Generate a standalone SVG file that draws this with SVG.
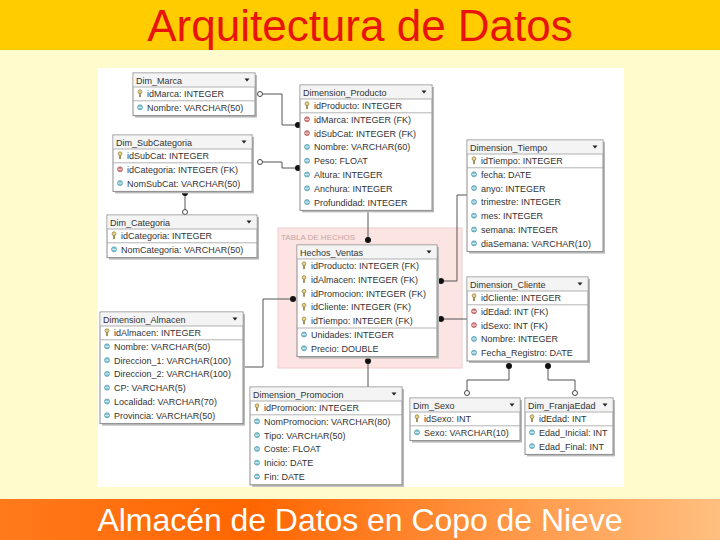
<svg xmlns="http://www.w3.org/2000/svg" xmlns:xlink="http://www.w3.org/1999/xlink" width="720" height="540" viewBox="0 0 720 540">
<defs>
<linearGradient id="footG" x1="0" y1="0" x2="1" y2="0">
<stop offset="0" stop-color="#FF7A1C"/><stop offset="0.35" stop-color="#FF6600"/><stop offset="1" stop-color="#FFBF80"/>
</linearGradient>
<g id="pk"><circle cx="0" cy="-1.8" r="1.9" fill="#e6d48a" stroke="#8c7a3a" stroke-width="0.7"/><rect x="-0.8" y="0" width="1.6" height="3.6" fill="#8c7a3a"/></g>
<g id="fk"><circle r="2.5" fill="#d98484" stroke="#a04a4a" stroke-width="0.6"/><rect x="-2.1" y="-0.4" width="4.2" height="0.9" fill="#ffffff" opacity="0.7"/></g>
<g id="at"><circle r="2.5" fill="#86c8d8" stroke="#3a8a9a" stroke-width="0.6"/><rect x="-2.1" y="-0.4" width="4.2" height="0.9" fill="#ffffff" opacity="0.7"/></g>
<path id="tri" d="M-2.5,-1.5 L2.5,-1.5 L0,1.5 Z" fill="#222"/>
</defs>
<style>
.box{fill:#ffffff;stroke:#8c8c8c;stroke-width:1}
.shadow{fill:#b8b8b8}
.hdr{fill:#f4f4f4}
.sep{stroke:#a0a0a0;stroke-width:0.8}
.t{font-family:"Liberation Sans","DejaVu Sans",sans-serif;font-size:9px;fill:#333}
.conn{fill:none;stroke:#555;stroke-width:1}
.dot{fill:#111}
.ring{fill:#fff;stroke:#444;stroke-width:1}
</style>
<!-- backgrounds -->
<rect x="0" y="0" width="720" height="540" fill="#FFFBCC"/>
<rect x="0" y="0" width="720" height="50" fill="#FFCC00"/>
<rect x="0" y="499" width="720" height="41" fill="url(#footG)"/>
<text x="360" y="41" text-anchor="middle" font-family="'Liberation Sans',Arial,sans-serif" font-size="44" fill="#E8140C">Arquitectura de Datos</text>
<text x="360" y="531" text-anchor="middle" font-family="'Liberation Sans',Arial,sans-serif" font-size="32" fill="#ffffff" textLength="525">Almacén de Datos en Copo de Nieve</text>
<rect x="98" y="68" width="526" height="419" fill="#ffffff"/>
<!-- fact region -->
<g id="region_hechos">
<rect x="278" y="228" width="184" height="140" fill="#fbe4e2" stroke="#f0cccc" stroke-width="1"/>
<text x="281" y="240" font-family="'Liberation Sans',Arial,sans-serif" font-size="8" fill="#c8a4a4">TABLA DE HECHOS</text>
</g>
<!-- connectors -->
<g id="connectors">
<path class="conn" d="M262.5,94 H282 V125 H297"/>
<circle class="ring" cx="260" cy="94" r="2.5"/><circle class="dot" cx="298" cy="125" r="3"/>
<path class="conn" d="M262.5,162 H282 V168 H297"/>
<circle class="ring" cx="260" cy="162" r="2.5"/><circle class="dot" cx="298" cy="168" r="3"/>
<path class="conn" d="M185,193 V209.5"/>
<circle class="dot" cx="185" cy="193" r="3"/><circle class="ring" cx="185" cy="212" r="2.5"/>
<path class="conn" d="M368,211 V240"/>
<circle class="dot" cx="368" cy="240" r="3"/>
<path class="conn" d="M467,195 H457 V281 H441"/>
<circle class="dot" cx="441" cy="281" r="3"/>
<path class="conn" d="M441,319 H467"/>
<circle class="dot" cx="441" cy="319" r="3"/>
<path class="conn" d="M243,367 H263 V299 H293"/>
<circle class="dot" cx="293" cy="299" r="3"/>
<path class="conn" d="M368,361 V387"/>
<circle class="dot" cx="368" cy="361" r="3"/>
<path class="conn" d="M509,366 V380 H467 V390.5"/>
<circle class="dot" cx="509" cy="366" r="3"/><circle class="ring" cx="467" cy="393" r="2.5"/>
<path class="conn" d="M548,366 V380 H575 V390.5"/>
<circle class="dot" cx="548" cy="366" r="3"/><circle class="ring" cx="575" cy="393" r="2.5"/>
</g>
<!-- Dim_Marca -->
<g id="Dim_Marca">
<rect class="shadow" x="135" y="75" width="122" height="42.6"/>
<rect class="box" x="133" y="73" width="122" height="42.6"/>
<rect class="hdr" x="133.5" y="73.5" width="121" height="13.5"/>
<line class="sep" x1="133" y1="87" x2="255" y2="87"/>
<line class="sep" x1="133" y1="100.8" x2="255" y2="100.8"/>
<text class="t" x="136" y="83.5">Dim_Marca</text><use href="#tri" x="247" y="80"/>
<use href="#pk" x="140" y="93.5"/><text class="t" x="147" y="97">idMarca: INTEGER</text>
<use href="#at" x="140" y="107.3"/><text class="t" x="147" y="110.8">Nombre: VARCHAR(50)</text>
</g>
<!-- Dim_SubCategoria -->
<g id="Dim_SubCategoria">
<rect class="shadow" x="115" y="137" width="139" height="56.4"/>
<rect class="box" x="113" y="135" width="139" height="56.4"/>
<rect class="hdr" x="113.5" y="135.5" width="138" height="13.5"/>
<line class="sep" x1="113" y1="149" x2="252" y2="149"/>
<line class="sep" x1="113" y1="162.8" x2="252" y2="162.8"/>
<text class="t" x="116" y="145.5">Dim_SubCategoria</text><use href="#tri" x="244" y="142"/>
<use href="#pk" x="120" y="155.5"/><text class="t" x="127" y="159">idSubCat: INTEGER</text>
<use href="#fk" x="120" y="169.3"/><text class="t" x="127" y="172.8">idCategoria: INTEGER (FK)</text>
<use href="#at" x="120" y="183.1"/><text class="t" x="127" y="186.6">NomSubCat: VARCHAR(50)</text>
</g>
<!-- Dim_Categoria -->
<g id="Dim_Categoria">
<rect class="shadow" x="109" y="217" width="150" height="42.6"/>
<rect class="box" x="107" y="215" width="150" height="42.6"/>
<rect class="hdr" x="107.5" y="215.5" width="149" height="13.5"/>
<line class="sep" x1="107" y1="229" x2="257" y2="229"/>
<line class="sep" x1="107" y1="242.8" x2="257" y2="242.8"/>
<text class="t" x="110" y="225.5">Dim_Categoria</text><use href="#tri" x="249" y="222"/>
<use href="#pk" x="114" y="235.5"/><text class="t" x="121" y="239">idCategoria: INTEGER</text>
<use href="#at" x="114" y="249.3"/><text class="t" x="121" y="252.8">NomCategoria: VARCHAR(50)</text>
</g>
<!-- Dimension_Producto -->
<g id="Dimension_Producto">
<rect class="shadow" x="302" y="87" width="132" height="125.4"/>
<rect class="box" x="300" y="85" width="132" height="125.4"/>
<rect class="hdr" x="300.5" y="85.5" width="131" height="13.5"/>
<line class="sep" x1="300" y1="99" x2="432" y2="99"/>
<line class="sep" x1="300" y1="112.8" x2="432" y2="112.8"/>
<text class="t" x="303" y="95.5">Dimension_Producto</text><use href="#tri" x="424" y="92"/>
<use href="#pk" x="307" y="105.5"/><text class="t" x="314" y="109">idProducto: INTEGER</text>
<use href="#fk" x="307" y="119.3"/><text class="t" x="314" y="122.8">idMarca: INTEGER (FK)</text>
<use href="#fk" x="307" y="133.1"/><text class="t" x="314" y="136.6">idSubCat: INTEGER (FK)</text>
<use href="#at" x="307" y="146.9"/><text class="t" x="314" y="150.4">Nombre: VARCHAR(60)</text>
<use href="#at" x="307" y="160.7"/><text class="t" x="314" y="164.2">Peso: FLOAT</text>
<use href="#at" x="307" y="174.5"/><text class="t" x="314" y="178">Altura: INTEGER</text>
<use href="#at" x="307" y="188.3"/><text class="t" x="314" y="191.8">Anchura: INTEGER</text>
<use href="#at" x="307" y="202.1"/><text class="t" x="314" y="205.6">Profundidad: INTEGER</text>
</g>
<!-- Dimension_Tiempo -->
<g id="Dimension_Tiempo">
<rect class="shadow" x="469" y="142" width="136" height="111.6"/>
<rect class="box" x="467" y="140" width="136" height="111.6"/>
<rect class="hdr" x="467.5" y="140.5" width="135" height="13.5"/>
<line class="sep" x1="467" y1="154" x2="603" y2="154"/>
<line class="sep" x1="467" y1="167.8" x2="603" y2="167.8"/>
<text class="t" x="470" y="150.5">Dimension_Tiempo</text><use href="#tri" x="595" y="147"/>
<use href="#pk" x="474" y="160.5"/><text class="t" x="481" y="164">idTiempo: INTEGER</text>
<use href="#at" x="474" y="174.3"/><text class="t" x="481" y="177.8">fecha: DATE</text>
<use href="#at" x="474" y="188.1"/><text class="t" x="481" y="191.6">anyo: INTEGER</text>
<use href="#at" x="474" y="201.9"/><text class="t" x="481" y="205.4">trimestre: INTEGER</text>
<use href="#at" x="474" y="215.7"/><text class="t" x="481" y="219.2">mes: INTEGER</text>
<use href="#at" x="474" y="229.5"/><text class="t" x="481" y="233">semana: INTEGER</text>
<use href="#at" x="474" y="243.3"/><text class="t" x="481" y="246.8">diaSemana: VARCHAR(10)</text>
</g>
<!-- Hechos_Ventas -->
<g id="Hechos_Ventas">
<rect class="shadow" x="299" y="247" width="140" height="111.6"/>
<rect class="box" x="297" y="245" width="140" height="111.6"/>
<rect class="hdr" x="297.5" y="245.5" width="139" height="13.5"/>
<line class="sep" x1="297" y1="259" x2="437" y2="259"/>
<line class="sep" x1="297" y1="328" x2="437" y2="328"/>
<text class="t" x="300" y="255.5">Hechos_Ventas</text><use href="#tri" x="429" y="252"/>
<use href="#pk" x="304" y="265.5"/><text class="t" x="311" y="269">idProducto: INTEGER (FK)</text>
<use href="#pk" x="304" y="279.3"/><text class="t" x="311" y="282.8">idAlmacen: INTEGER (FK)</text>
<use href="#pk" x="304" y="293.1"/><text class="t" x="311" y="296.6">idPromocion: INTEGER (FK)</text>
<use href="#pk" x="304" y="306.9"/><text class="t" x="311" y="310.4">idCliente: INTEGER (FK)</text>
<use href="#pk" x="304" y="320.7"/><text class="t" x="311" y="324.2">idTiempo: INTEGER (FK)</text>
<use href="#at" x="304" y="334.5"/><text class="t" x="311" y="338">Unidades: INTEGER</text>
<use href="#at" x="304" y="348.3"/><text class="t" x="311" y="351.8">Precio: DOUBLE</text>
</g>
<!-- Dimension_Cliente -->
<g id="Dimension_Cliente">
<rect class="shadow" x="469" y="279" width="121" height="84"/>
<rect class="box" x="467" y="277" width="121" height="84"/>
<rect class="hdr" x="467.5" y="277.5" width="120" height="13.5"/>
<line class="sep" x1="467" y1="291" x2="588" y2="291"/>
<line class="sep" x1="467" y1="304.8" x2="588" y2="304.8"/>
<text class="t" x="470" y="287.5">Dimension_Cliente</text><use href="#tri" x="580" y="284"/>
<use href="#pk" x="474" y="297.5"/><text class="t" x="481" y="301">idCliente: INTEGER</text>
<use href="#fk" x="474" y="311.3"/><text class="t" x="481" y="314.8">idEdad: INT (FK)</text>
<use href="#fk" x="474" y="325.1"/><text class="t" x="481" y="328.6">idSexo: INT (FK)</text>
<use href="#at" x="474" y="338.9"/><text class="t" x="481" y="342.4">Nombre: INTEGER</text>
<use href="#at" x="474" y="352.7"/><text class="t" x="481" y="356.2">Fecha_Registro: DATE</text>
</g>
<!-- Dimension_Almacen -->
<g id="Dimension_Almacen">
<rect class="shadow" x="102" y="314" width="143" height="111.6"/>
<rect class="box" x="100" y="312" width="143" height="111.6"/>
<rect class="hdr" x="100.5" y="312.5" width="142" height="13.5"/>
<line class="sep" x1="100" y1="326" x2="243" y2="326"/>
<line class="sep" x1="100" y1="339.8" x2="243" y2="339.8"/>
<text class="t" x="103" y="322.5">Dimension_Almacen</text><use href="#tri" x="235" y="319"/>
<use href="#pk" x="107" y="332.5"/><text class="t" x="114" y="336">idAlmacen: INTEGER</text>
<use href="#at" x="107" y="346.3"/><text class="t" x="114" y="349.8">Nombre: VARCHAR(50)</text>
<use href="#at" x="107" y="360.1"/><text class="t" x="114" y="363.6">Direccion_1: VARCHAR(100)</text>
<use href="#at" x="107" y="373.9"/><text class="t" x="114" y="377.4">Direccion_2: VARCHAR(100)</text>
<use href="#at" x="107" y="387.7"/><text class="t" x="114" y="391.2">CP: VARCHAR(5)</text>
<use href="#at" x="107" y="401.5"/><text class="t" x="114" y="405">Localidad: VARCHAR(70)</text>
<use href="#at" x="107" y="415.3"/><text class="t" x="114" y="418.8">Provincia: VARCHAR(50)</text>
</g>
<!-- Dimension_Promocion -->
<g id="Dimension_Promocion">
<rect class="shadow" x="252" y="389" width="152" height="97.8"/>
<rect class="box" x="250" y="387" width="152" height="97.8"/>
<rect class="hdr" x="250.5" y="387.5" width="151" height="13.5"/>
<line class="sep" x1="250" y1="401" x2="402" y2="401"/>
<line class="sep" x1="250" y1="414.8" x2="402" y2="414.8"/>
<text class="t" x="253" y="397.5">Dimension_Promocion</text><use href="#tri" x="394" y="394"/>
<use href="#pk" x="257" y="407.5"/><text class="t" x="264" y="411">idPromocion: INTEGER</text>
<use href="#at" x="257" y="421.3"/><text class="t" x="264" y="424.8">NomPromocion: VARCHAR(80)</text>
<use href="#at" x="257" y="435.1"/><text class="t" x="264" y="438.6">Tipo: VARCHAR(50)</text>
<use href="#at" x="257" y="448.9"/><text class="t" x="264" y="452.4">Coste: FLOAT</text>
<use href="#at" x="257" y="462.7"/><text class="t" x="264" y="466.2">Inicio: DATE</text>
<use href="#at" x="257" y="476.5"/><text class="t" x="264" y="480">Fin: DATE</text>
</g>
<!-- Dim_Sexo -->
<g id="Dim_Sexo">
<rect class="shadow" x="412" y="400" width="110" height="42.6"/>
<rect class="box" x="410" y="398" width="110" height="42.6"/>
<rect class="hdr" x="410.5" y="398.5" width="109" height="13.5"/>
<line class="sep" x1="410" y1="412" x2="520" y2="412"/>
<line class="sep" x1="410" y1="425.8" x2="520" y2="425.8"/>
<text class="t" x="413" y="408.5">Dim_Sexo</text><use href="#tri" x="512" y="405"/>
<use href="#pk" x="417" y="418.5"/><text class="t" x="424" y="422">idSexo: INT</text>
<use href="#at" x="417" y="432.3"/><text class="t" x="424" y="435.8">Sexo: VARCHAR(10)</text>
</g>
<!-- Dim_FranjaEdad -->
<g id="Dim_FranjaEdad">
<rect class="shadow" x="527" y="400" width="88" height="56.4"/>
<rect class="box" x="525" y="398" width="88" height="56.4"/>
<rect class="hdr" x="525.5" y="398.5" width="87" height="13.5"/>
<line class="sep" x1="525" y1="412" x2="613" y2="412"/>
<line class="sep" x1="525" y1="425.8" x2="613" y2="425.8"/>
<text class="t" x="528" y="408.5">Dim_FranjaEdad</text><use href="#tri" x="605" y="405"/>
<use href="#pk" x="532" y="418.5"/><text class="t" x="539" y="422">idEdad: INT</text>
<use href="#at" x="532" y="432.3"/><text class="t" x="539" y="435.8">Edad_Inicial: INT</text>
<use href="#at" x="532" y="446.1"/><text class="t" x="539" y="449.6">Edad_Final: INT</text>
</g>
</svg>
